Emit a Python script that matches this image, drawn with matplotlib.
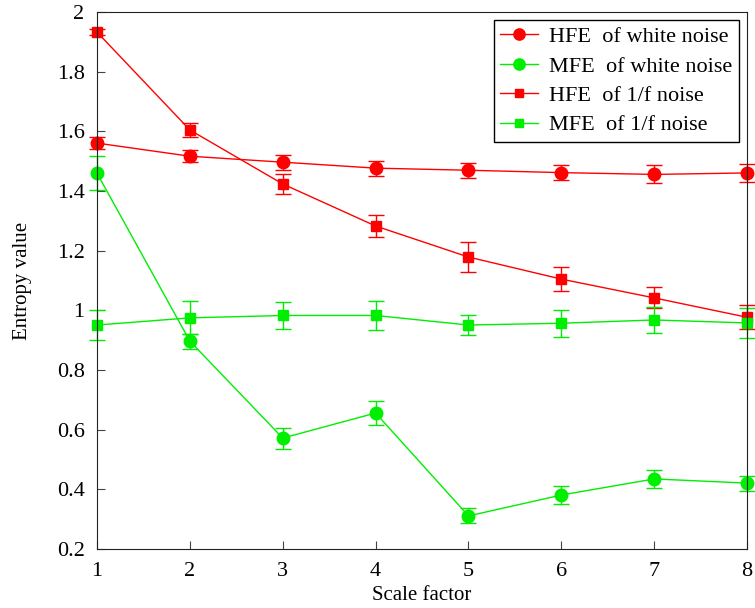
import matplotlib
matplotlib.use("Agg")
import matplotlib.pyplot as plt
from matplotlib.lines import Line2D
import numpy as np

plt.rcParams['font.family'] = ['Liberation Serif', 'DejaVu Serif']

x = np.arange(1, 9)
labels = ["HFE  of white noise", "MFE  of white noise", "HFE  of 1/f noise", "MFE  of 1/f noise"]

hfe_white = [1.561, 1.517, 1.497, 1.477, 1.470, 1.462, 1.456, 1.461]
hfe_white_err = [0.02, 0.02, 0.025, 0.025, 0.025, 0.025, 0.03, 0.03]
mfe_white = [1.460, 0.897, 0.572, 0.656, 0.311, 0.381, 0.435, 0.421]
mfe_white_err = [0.057, 0.025, 0.035, 0.04, 0.025, 0.03, 0.03, 0.025]
hfe_pink = [1.933, 1.605, 1.424, 1.283, 1.179, 1.105, 1.042, 0.977]
hfe_pink_err = [0.01, 0.025, 0.035, 0.038, 0.05, 0.04, 0.035, 0.04]
mfe_pink = [0.951, 0.975, 0.983, 0.983, 0.951, 0.957, 0.968, 0.958]
mfe_pink_err = [0.05, 0.055, 0.045, 0.05, 0.033, 0.045, 0.045, 0.05]

red = '#ff0000'
green = '#00ee00'

fig = plt.figure(figsize=(7.55, 6.08), dpi=100)
ax = fig.add_axes([0.1285, 0.097, 0.861, 0.883])

series = [
    (hfe_white, hfe_white_err, red, 'o', 9),
    (mfe_white, mfe_white_err, green, 'o', 9),
    (hfe_pink, hfe_pink_err, red, 's', 7),
    (mfe_pink, mfe_pink_err, green, 's', 7),
]
handles = []
for (y, e, c, m, ms), lab in zip(series, labels):
    ax.errorbar(x, y, yerr=e, color=c, marker=m, ms=ms, lw=1,
                capsize=6, elinewidth=1, clip_on=False)
    handles.append(Line2D([], [], color=c, marker=m, ms=ms * 0.9, lw=1, label=lab))

ax.set_xlim(1, 8)
ax.set_ylim(0.2, 2)
ax.set_xticks(x)
ax.set_yticks([0.2, 0.4, 0.6, 0.8, 1, 1.2, 1.4, 1.6, 1.8, 2])
ax.set_yticklabels(["0.2", "0.4", "0.6", "0.8", "1", "1.2", "1.4", "1.6", "1.8", "2"])
ax.tick_params(direction='in', labelsize=16, length=6, pad=9, color='#444444')
ax.set_xlabel("Scale factor", fontsize=15, labelpad=4)
ax.set_ylabel("Entropy value", fontsize=15, labelpad=18)
for s in ax.spines.values():
    s.set_color('#222222')

leg = ax.legend(handles=handles, loc='upper right', fontsize=16, fancybox=False,
                edgecolor='black', framealpha=1, handlelength=1.7, borderpad=0.3,
                labelspacing=0.4, handletextpad=0.5, borderaxespad=0.35)
leg.get_frame().set_linewidth(1)

fig.savefig("out.png", dpi=100)
